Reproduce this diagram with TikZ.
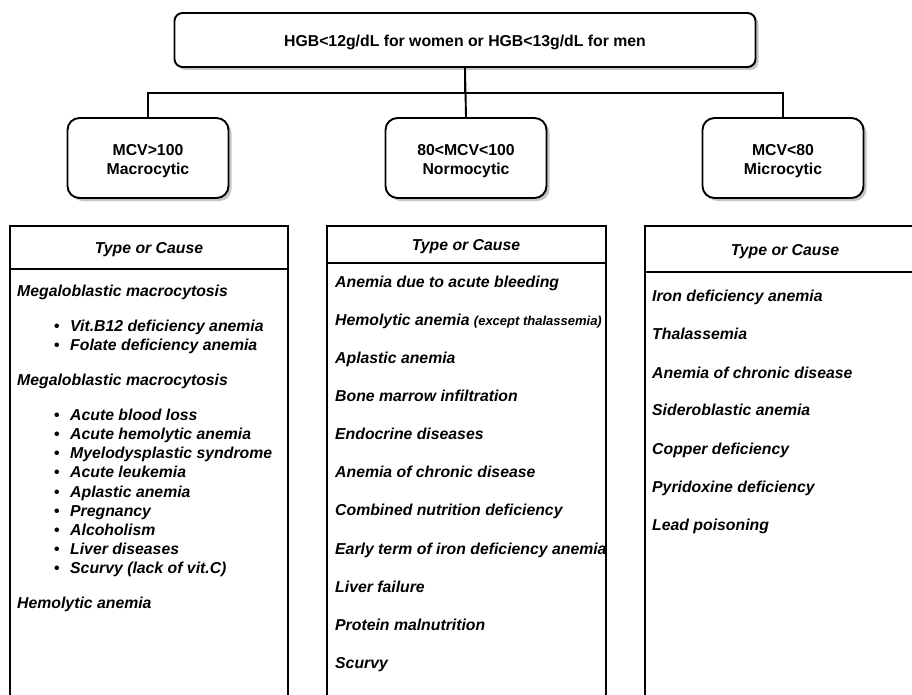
\documentclass[tikz,border=0pt]{standalone}
\usepackage{fontspec}
\setmainfont{Liberation Sans}
\usetikzlibrary{shadows}
\tikzset{
  base/.style={font=\fontsize{15.8}{19}\selectfont\bfseries},
  toprect/.style={draw, line width=1.9pt, rounded corners=8pt, fill=white,
    minimum width=581pt, minimum height=54pt, inner sep=0pt,
    drop shadow={shadow xshift=3pt, shadow yshift=-3pt, fill=black!45, opacity=0.5}},
  childrect/.style={draw, line width=1.9pt, rounded corners=12pt, fill=white,
    minimum width=161pt, minimum height=80pt, inner sep=0pt,
    drop shadow={shadow xshift=3pt, shadow yshift=-3pt, fill=black!45, opacity=0.5}},
  boxtext/.style={inner sep=0pt, align=center},
  conn/.style={line width=1.9pt},
  tablebox/.style={line width=1.9pt},
  hdr/.style={anchor=base, inner sep=0pt, font=\fontsize{15.8}{19}\selectfont\bfseries\itshape},
  entry/.style={anchor=base west, inner sep=0pt, font=\fontsize{15.8}{19}\selectfont\bfseries\itshape},
  bul/.style={anchor=base, inner sep=0pt, font=\fontsize{15.8}{19}\selectfont\bfseries},
}
\begin{document}
\begin{tikzpicture}[x=1pt, y=-1pt, base]
\clip (0,0) rectangle (912,695);
\fill[white] (0,0) rectangle (912,695);

% top and level boxes
\node[toprect] (top) at (465,40) {};
\node[boxtext] (toptext) at (465,42) {HGB<12g/dL for women or HGB<13g/dL for men};
\node[childrect] (c1) at (148,158) {};
\node[childrect] (c2) at (466,158) {};
\node[childrect] (c3) at (783,158) {};
\node[boxtext] (c1t) at (148,161) {MCV>100\\Macrocytic};
\node[boxtext] (c2t) at (466,161) {80<MCV<100\\Normocytic};
\node[boxtext] (c3t) at (783,161) {MCV<80\\Microcytic};

\coordinate (bus) at (465,93);
\draw[conn] (top.south) -- (top.south |- bus) -| (c1.north);
\draw[conn] (top.south |- bus) -| (c3.north);
\draw[conn] (top.south) -- (c2.north);

% tables
\draw[tablebox] (10,720) -- (10,226) -- (288,226) -- (288,720);
\draw[tablebox] (10,269) -- (288,269);
\node[hdr] (h1) at (149,253.5) {Type or Cause};

\draw[tablebox] (327,720) -- (327,226) -- (606,226) -- (606,720);
\draw[tablebox] (327,263) -- (606,263);
\node[hdr] (h2) at (466,250.5) {Type or Cause};

\draw[tablebox] (645,720) -- (645,226) -- (930,226) -- (930,720);
\draw[tablebox] (645,272) -- (930,272);
\node[hdr] (h3) at (785,255.5) {Type or Cause};

% left column
\node[entry] (a1) at (17,296) {Megaloblastic macrocytosis};
\node[entry] (a2) at (17,385) {Megaloblastic macrocytosis};
\node[entry] (a3) at (17,608) {Hemolytic anemia};
\foreach \t/\y [count=\i] in {Vit.B12 deficiency anemia/331, Folate deficiency anemia/350,
  Acute blood loss/420, Acute hemolytic anemia/439, Myelodysplastic syndrome/458,
  Acute leukemia/477, Aplastic anemia/497, Pregnancy/516, Alcoholism/535,
  Liver diseases/554, Scurvy (lack of vit.C)/573}{
  \node[bul] (b\i) at (57,\y) {\textbullet};
  \node[entry] (l\i) at (70,\y) {\t};
}

% middle column
\foreach \t/\y [count=\i] in {Anemia due to acute bleeding/287,
  {Hemolytic anemia {\fontsize{13}{13}\selectfont(except thalassemia)}}/325,
  Aplastic anemia/363, Bone marrow infiltration/401, Endocrine diseases/439,
  Anemia of chronic disease/477, Combined nutrition deficiency/515,
  Early term of iron deficiency anemia/554, Liver failure/592,
  Protein malnutrition/630, Scurvy/668}{
  \node[entry] (m\i) at (335,\y) {\t};
}

% right column
\foreach \t/\y [count=\i] in {Iron deficiency anemia/301, Thalassemia/339,
  Anemia of chronic disease/378, Sideroblastic anemia/415, Copper deficiency/454,
  Pyridoxine deficiency/492, Lead poisoning/530}{
  \node[entry] (r\i) at (652,\y) {\t};
}
\end{tikzpicture}
\end{document}
